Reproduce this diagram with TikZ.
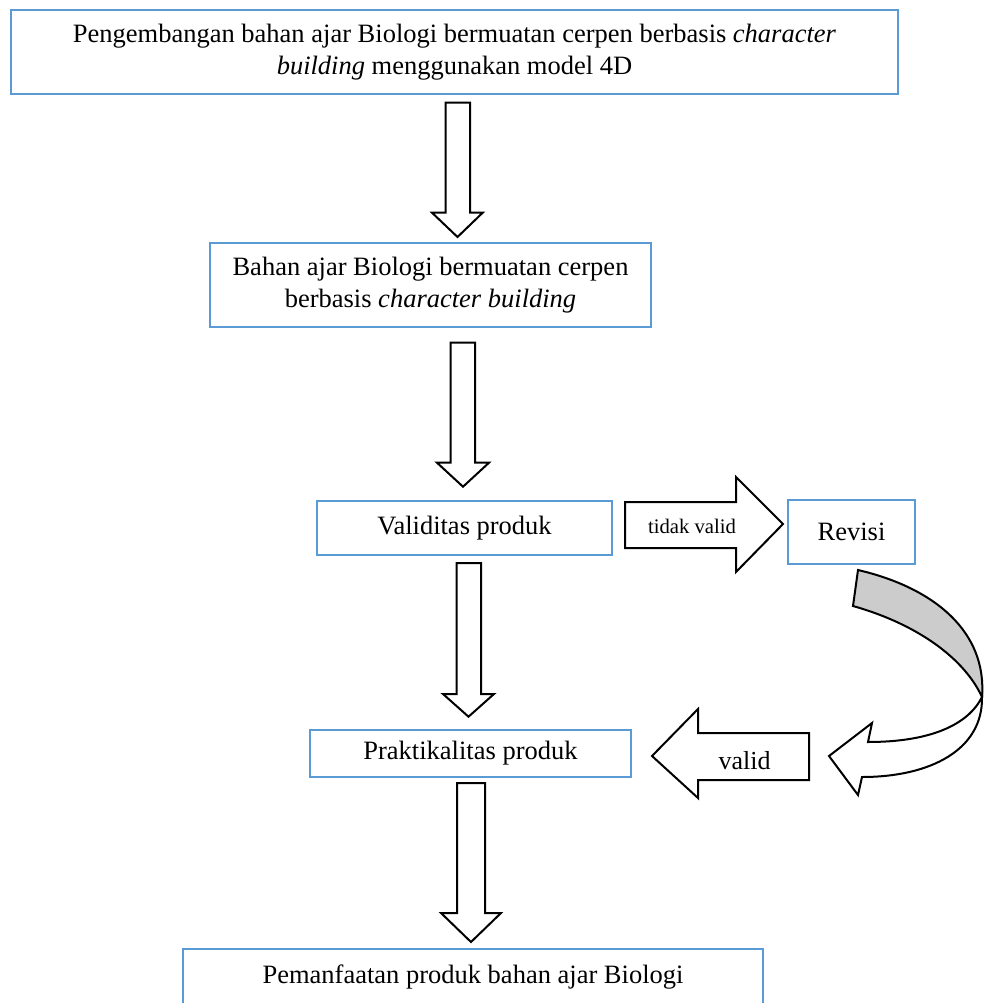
\documentclass[tikz,border=0pt]{standalone}
\usepackage{fontspec}
\setmainfont{Liberation Serif}
\definecolor{boxblue}{HTML}{5B9BD5}
\definecolor{curvegray}{HTML}{CCCCCC}
\begin{document}
\begin{tikzpicture}[x=1pt,y=-1pt,
  box/.style={draw=boxblue,line width=2pt,fill=white,inner sep=0pt,align=center,
    font=\fontsize{26.5}{31.5}\selectfont},
  blk/.style={draw=black,line width=2pt,fill=white,line join=miter},
  lbl/.style={inner sep=0pt}]
\useasboundingbox (0,0) rectangle (985,1003);
% boxes
\node[box,minimum width=887pt,minimum height=84pt] (b1) at (454.5,52) {Pengembangan bahan ajar Biologi bermuatan cerpen berbasis \textit{character}\\\textit{building} menggunakan model 4D};
\node[box,minimum width=441pt,minimum height=84pt] (b2) at (430.5,285) {Bahan ajar Biologi bermuatan cerpen\\berbasis \textit{character building}};
\node[box,minimum width=295pt,minimum height=54pt] (b3) at (464.5,528) {Validitas produk};
\node[box,minimum width=127pt,minimum height=64pt] (rev) at (851.5,532) {Revisi};
\node[box,minimum width=321pt,minimum height=47pt] (b4) at (470.5,753.5) {Praktikalitas produk};
\node[box,minimum width=580pt,minimum height=66pt] (b5) at (473,982) {};
\node[lbl,font=\fontsize{26.5}{31.5}\selectfont] (t5) at (473,977) {Pemanfaatan produk bahan ajar Biologi};
% down block arrows
\draw[blk] (445.7,102.7) -- (470,102.7) -- (470,212.7) -- (482.7,212.7) -- (457.5,237) -- (432,212.7) -- (445.7,212.7) -- cycle;
\draw[blk] (450.7,342.7) -- (475,342.7) -- (475,462.7) -- (489,462.7) -- (463,486.7) -- (437,462.7) -- (450.7,462.7) -- cycle;
\draw[blk] (456.7,563) -- (481,563) -- (481,694) -- (494,694) -- (468.5,716.7) -- (443,694) -- (456.7,694) -- cycle;
\draw[blk] (457,783) -- (485,783) -- (485,913) -- (501,913) -- (471,942) -- (441,913) -- (457,913) -- cycle;
% tidak valid arrow
\draw[blk] (625,502) -- (736,502) -- (736,477) -- (783,524) -- (736,572) -- (736,548) -- (625,548) -- cycle;
\node[lbl,font=\fontsize{20.7}{24}\selectfont] (tv) at (692,526) {tidak valid};
% valid arrow
\draw[blk] (809,733) -- (698,733) -- (698,709) -- (652,756) -- (698,798) -- (698,780) -- (809,780) -- cycle;
\node[lbl,font=\fontsize{26}{30}\selectfont] (v) at (744.5,761) {valid};
% curved arrow
\draw[line width=2pt,fill=curvegray,line join=miter] (858,570) .. controls (935,588) and (987,632) .. (982,697)
  .. controls (965,660) and (920,625) .. (853,606) -- cycle;
\draw[line width=2pt,fill=white,line join=miter] (982,697) .. controls (983,750) and (930,777) .. (862,777)
  -- (858,795) -- (829,756) -- (872,723) -- (868,742)
  .. controls (930,742) and (968,725) .. (982,697) -- cycle;
\end{tikzpicture}
\end{document}
